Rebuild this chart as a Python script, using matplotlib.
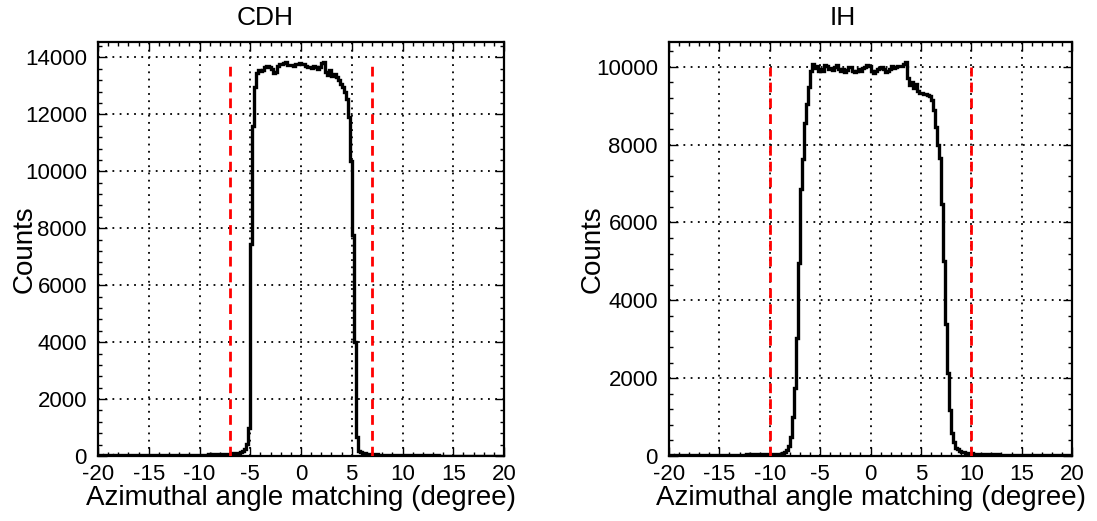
import numpy as np
import matplotlib
matplotlib.use("Agg")
import matplotlib.pyplot as plt
from matplotlib.ticker import MultipleLocator

plt.rcParams['font.family'] = ['Liberation Sans', 'DejaVu Sans']

# ---------------- data ----------------
x_range = (-20.0, 20.0)
n_bins = 200

cdh_counts = [
    # -20.0 .. -16.2
    18, 22, 15, 20, 25, 19, 23, 17, 21, 26, 20, 24, 18, 22, 27, 21, 25, 19, 23, 28,
    # -16.0 .. -12.2
    22, 26, 24, 29, 23, 27, 31, 25, 28, 33, 27, 30, 35, 29, 32, 37, 31, 34, 39, 33,
    # -12.0 .. -8.2
    36, 41, 35, 38, 43, 40, 45, 42, 47, 44, 49, 46, 52, 48, 55, 51, 58, 54, 60, 57,
    # -8.0 .. -6.4
    62, 66, 70, 74, 80, 85, 92, 98, 104,
    # -6.2 .. -4.4
    110, 140, 180, 250, 420, 1000, 7460, 11600, 12950, 13450,
    # -4.2 .. -2.4
    13550, 13530, 13560, 13650, 13700, 13650, 13600, 13450, 13500, 13700,
    # -2.2 .. -0.4
    13780, 13760, 13800, 13830, 13740, 13720, 13750, 13700, 13760, 13780,
    # -0.2 .. 1.6
    13800, 13780, 13760, 13700, 13650, 13680, 13620, 13700, 13650, 13600,
    # 1.8 .. 3.6
    13680, 13820, 13850, 13480, 13400, 13550, 13350, 13420, 13300, 13200,
    # 3.8 .. 5.6
    13050, 12950, 12800, 12550, 11900, 10350, 7770, 4000, 650, 180,
    # 5.8 .. 7.6
    130, 105, 90, 80, 72, 66, 61, 57, 53, 50,
    # 7.8 .. 11.6
    47, 45, 43, 41, 39, 38, 36, 35, 33, 32, 31, 30, 29, 28, 27, 26, 26, 25, 24, 23,
    # 11.8 .. 15.6
    23, 22, 21, 21, 20, 19, 19, 18, 18, 17, 17, 16, 16, 15, 15, 15, 14, 14, 13, 13,
    # 15.8 .. 19.8
    13, 12, 12, 12, 11, 11, 11, 10, 10, 10, 9, 9, 9, 9, 8, 8, 8, 8, 7, 7, 7,
]

ih_counts = [
    # -20.0 .. -16.2
    12, 15, 11, 14, 16, 13, 17, 15, 18, 14, 19, 16, 20, 17, 21, 18, 22, 19, 23, 20,
    # -16.0 .. -12.2
    24, 21, 25, 23, 27, 24, 28, 26, 30, 27, 32, 29, 33, 31, 35, 33, 37, 35, 39, 37,
    # -12.0 .. -9.2
    41, 39, 43, 42, 46, 44, 48, 47, 51, 50, 54, 53, 57, 56, 58,
    # -9.0 .. -6.0
    62, 80, 110, 160, 260, 480, 1000, 1750, 3030, 4970, 6850, 7620, 8560, 9050, 9490, 9900,
    # -5.8 .. -4.0
    10060, 9960, 10010, 9880, 9950, 9900, 10040, 10020, 9930, 9970,
    # -3.8 .. -2.0
    9920, 10000, 10040, 9950, 9890, 9950, 9860, 9920, 9990, 10000,
    # -1.8 .. 0.0
    9900, 9860, 9900, 9950, 9890, 9960, 9990, 10040, 10010, 9880,
    # 0.2 .. 2.0
    9850, 9900, 9950, 9960, 10000, 9930, 9860, 9880, 9950, 10010,
    # 2.2 .. 3.4
    9980, 9990, 10010, 10030, 10020, 10060, 10130,
    # 3.6 .. 5.4
    9700, 9520, 9620, 9450, 9550, 9380, 9320, 9330, 9300, 9290,
    # 5.6 .. 7.4
    9280, 9250, 9150, 8900, 8450, 8000, 7650, 6470, 5020, 3400,
    # 7.6 .. 9.0
    2130, 1190, 600, 350, 200, 170, 140, 110,
    # 9.2 .. 19.8
    95, 85, 78, 72, 67, 63, 60, 57, 54, 52,
    50, 48, 46, 45, 43, 42, 40, 39, 38, 36,
    35, 34, 33, 32, 31, 30, 29, 28, 27, 27,
    26, 25, 24, 24, 23, 22, 22, 21, 20, 20,
    19, 19, 18, 18, 17, 17, 16, 16, 15, 15,
    14, 14, 13, 13,
]

titles = ["CDH", "IH"]
cut_positions = [7.0, 10.0]          # red dashed selection windows (+/-)
cut_heights = [13700, 10000]
x_label = "Azimuthal angle matching (degree)"
y_label = "Counts"
x_ticks = [-20, -15, -10, -5, 0, 5, 10, 15, 20]

assert len(cdh_counts) == n_bins and len(ih_counts) == n_bins

# ---------------- figure ----------------
W, H = 1097, 521
fig = plt.figure(figsize=(W / 100, H / 100), dpi=100)

def frac_rect(l, r, t, b):
    return [l / W, 1 - b / H, (r - l) / W, (b - t) / H]

axes_px = [(98, 504, 42, 456), (669, 1072, 42, 456)]
title_px = [(265, 18), (843, 18)]
ylab_x = [25, 593]
y_major = [2000, 2000]
y_minor = [400, 400]

edges = np.linspace(x_range[0], x_range[1], n_bins + 1)

for k, counts in enumerate([cdh_counts, ih_counts]):
    l, r, t, b = axes_px[k]
    ax = fig.add_axes(frac_rect(l, r, t, b))
    counts = np.asarray(counts, dtype=float)
    ax.stairs(counts, edges, color="black", lw=2.4, zorder=3)
    ymax = 1.05 * counts.max()
    ax.set_xlim(*x_range)
    ax.set_ylim(0, ymax)
    c = cut_positions[k]
    for xc in (-c, c):
        ax.plot([xc, xc], [0, cut_heights[k]], color="red", lw=2.0,
                ls=(0, (3.5, 2.2)), zorder=4)
    ax.set_xticks(x_ticks)
    ax.set_xticklabels([str(v) for v in x_ticks])
    ax.xaxis.set_minor_locator(MultipleLocator(1))
    ax.yaxis.set_major_locator(MultipleLocator(y_major[k]))
    ax.yaxis.set_minor_locator(MultipleLocator(y_minor[k]))
    ax.tick_params(which="both", direction="in", top=True, right=True,
                   labelsize=16, width=1.0, color="black")
    ax.tick_params(which="major", length=6.5)
    ax.tick_params(which="minor", length=3.2)
    ax.tick_params(axis="x", pad=6)
    ax.tick_params(axis="y", pad=8)
    ax.grid(True, which="major", color="black", ls=(0, (1, 3)), lw=1.3)
    for s in ax.spines.values():
        s.set_linewidth(1.6)
    ax.set_xlabel(x_label, fontsize=20)
    ax.xaxis.set_label_coords(0.5, -(498 - b) / (b - t))
    ax.xaxis.label.set_va("center")
    ax.set_ylabel(y_label, fontsize=20)
    ax.yaxis.set_label_coords(-(l - ylab_x[k]) / (r - l), 0.5)
    ax.yaxis.label.set_va("center")
    fig.text(title_px[k][0] / W, 1 - title_px[k][1] / H, titles[k],
             fontsize=19, ha="center", va="center")

fig.savefig("out.png", dpi=100)
